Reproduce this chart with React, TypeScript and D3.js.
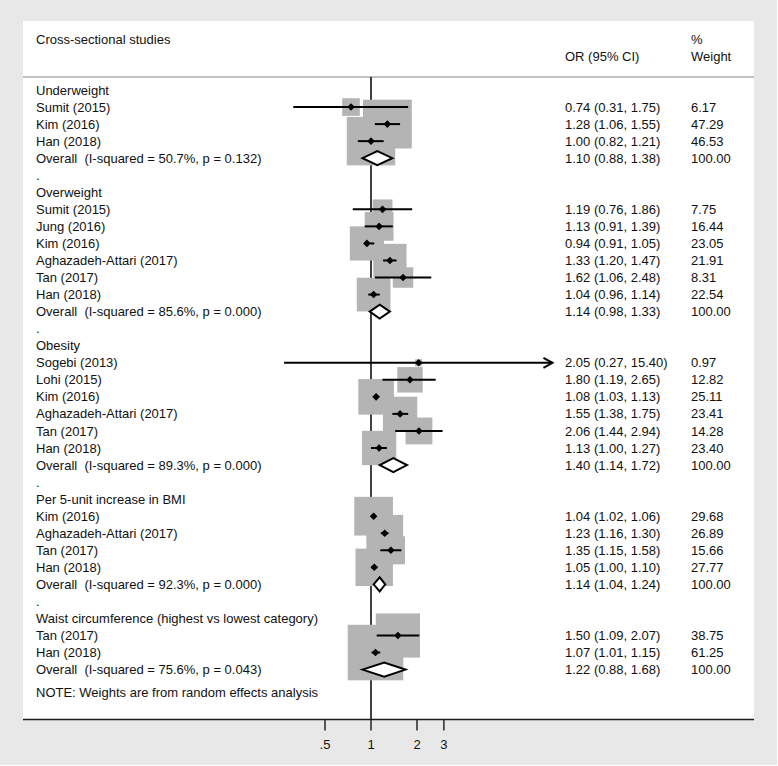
import React from "react";
import * as d3 from "d3";

// ---- data ----
const rowLabels: string[] = [
  "Underweight",
  "Sumit (2015)", "Kim (2016)", "Han (2018)",
  "Overall  (I-squared = 50.7%, p = 0.132)",
  ".",
  "Overweight",
  "Sumit (2015)", "Jung (2016)", "Kim (2016)", "Aghazadeh-Attari (2017)", "Tan (2017)", "Han (2018)",
  "Overall  (I-squared = 85.6%, p = 0.000)",
  ".",
  "Obesity",
  "Sogebi (2013)", "Lohi (2015)", "Kim (2016)", "Aghazadeh-Attari (2017)", "Tan (2017)", "Han (2018)",
  "Overall  (I-squared = 89.3%, p = 0.000)",
  ".",
  "Per 5-unit increase in BMI",
  "Kim (2016)", "Aghazadeh-Attari (2017)", "Tan (2017)", "Han (2018)",
  "Overall  (I-squared = 92.3%, p = 0.000)",
  ".",
  "Waist circumference (highest vs lowest category)",
  "Tan (2017)", "Han (2018)",
  "Overall  (I-squared = 75.6%, p = 0.043)",
];

// h = heading, s = study, o = overall, b = blank
const rowKinds: string[] = [
  "h", "s", "s", "s", "o", "b",
  "h", "s", "s", "s", "s", "s", "s", "o", "b",
  "h", "s", "s", "s", "s", "s", "s", "o", "b",
  "h", "s", "s", "s", "s", "o", "b",
  "h", "s", "s", "o",
];

const rowOR: (number | null)[] = [
  null, 0.74, 1.28, 1.00, 1.10, null,
  null, 1.19, 1.13, 0.94, 1.33, 1.62, 1.04, 1.14, null,
  null, 2.05, 1.80, 1.08, 1.55, 2.06, 1.13, 1.40, null,
  null, 1.04, 1.23, 1.35, 1.05, 1.14, null,
  null, 1.50, 1.07, 1.22,
];
const rowLow: (number | null)[] = [
  null, 0.31, 1.06, 0.82, 0.88, null,
  null, 0.76, 0.91, 0.91, 1.20, 1.06, 0.96, 0.98, null,
  null, 0.27, 1.19, 1.03, 1.38, 1.44, 1.00, 1.14, null,
  null, 1.02, 1.16, 1.15, 1.00, 1.04, null,
  null, 1.09, 1.01, 0.88,
];
const rowHigh: (number | null)[] = [
  null, 1.75, 1.55, 1.21, 1.38, null,
  null, 1.86, 1.39, 1.05, 1.47, 2.48, 1.14, 1.33, null,
  null, 15.40, 2.65, 1.13, 1.75, 2.94, 1.27, 1.72, null,
  null, 1.06, 1.30, 1.58, 1.10, 1.24, null,
  null, 2.07, 1.15, 1.68,
];
const rowWeight: (number | null)[] = [
  null, 6.17, 47.29, 46.53, 100.0, null,
  null, 7.75, 16.44, 23.05, 21.91, 8.31, 22.54, 100.0, null,
  null, 0.97, 12.82, 25.11, 23.41, 14.28, 23.40, 100.0, null,
  null, 29.68, 26.89, 15.66, 27.77, 100.0, null,
  null, 38.75, 61.25, 100.0,
];

const tickValues = [0.5, 1, 2, 3];
const tickLabels = [".5", "1", "2", "3"];
const clipMax = 14.8; // plot range upper limit (arrows beyond)

const titleText = "Cross-sectional studies";
const noteText = "NOTE: Weights are from random effects analysis";

// ---- layout ----
const W = 778;
const H = 766;
const FONT = "'Liberation Sans', Arial, Helvetica, sans-serif";

export default function App() {
  const x = d3.scaleLog().domain([0.5, 3]).range([325, 443.9]);
  const y = d3.scaleLinear().domain([0, rowLabels.length - 1]).range([90, 669.6]);
  const side = d3.scaleSqrt().domain([0, 100]).range([0, 71]);

  const panelL = 23, panelR = 754, panelT = 21, axisY = 719.5, headerY = 77;
  const colLabel = 36, colOR = 565, colW = 691;
  const fmt = d3.format(".2f");

  const textStyle: React.CSSProperties = { whiteSpace: "pre" };
  const idx = rowLabels.map((_, i) => i);
  const studies = idx.filter((i) => rowKinds[i] === "s");
  const overalls = idx.filter((i) => rowKinds[i] === "o");
  const xNull = x(1);

  return (
    <svg width={W} height={H} style={{ position: "absolute", left: 0, top: 0 }} fontFamily={FONT} fontSize={13}>
      <rect x={0} y={0} width={W - 1} height={H - 1} fill="#e8e8e8" />
      <rect x={panelL} y={panelT} width={panelR - panelL} height={axisY - panelT} fill="#ffffff" />
      {/* header */}
      <text x={colLabel} y={44} fill="#111">{titleText}</text>
      <text x={colOR} y={61} fill="#111">OR (95% CI)</text>
      <text x={colW} y={44} fill="#111">%</text>
      <text x={colW} y={61} fill="#111">Weight</text>
      <line x1={panelL} x2={panelR} y1={headerY} y2={headerY} stroke="#c2c2c2" strokeWidth={2} />

      {/* null line */}
      <line x1={xNull} x2={xNull} y1={headerY} y2={axisY} stroke="#111" strokeWidth={1.6} />

      {/* boxes */}
      {studies.map((i) => {
        const s = side(rowWeight[i] as number);
        const cx = x(rowOR[i] as number);
        return <rect key={"b" + i} x={cx - s / 2} y={y(i) - s / 2} width={s} height={s} fill="#b4b4b4" />;
      })}

      {/* CI lines and markers */}
      {studies.map((i) => {
        const lo = rowLow[i] as number;
        const hi = rowHigh[i] as number;
        const cx = x(rowOR[i] as number);
        const yy = y(i);
        const clipped = hi > clipMax;
        const x2 = x(Math.min(hi, 15.4));
        const m = 3.8;
        return (
          <g key={"c" + i}>
            <line x1={x(lo)} x2={x2} y1={yy} y2={yy} stroke="#000" strokeWidth={2} />
            {clipped && (
              <polyline points={`${x2 - 9},${yy - 5} ${x2},${yy} ${x2 - 9},${yy + 5}`} fill="none" stroke="#000" strokeWidth={2} />
            )}
            <path d={`M${cx - m},${yy} L${cx},${yy - m} L${cx + m},${yy} L${cx},${yy + m} Z`} fill="#000" />
          </g>
        );
      })}

      {/* overall diamonds */}
      {overalls.map((i) => {
        const yy = y(i);
        const l = x(rowLow[i] as number), r = x(rowHigh[i] as number), c = x(rowOR[i] as number);
        return (
          <path key={"d" + i} d={`M${l},${yy} L${c},${yy - 7} L${r},${yy} L${c},${yy + 7} Z`} fill="#fff" stroke="#000" strokeWidth={2} />
        );
      })}

      {/* row texts */}
      {idx.map((i) => (
        <g key={"t" + i}>
          <text x={colLabel} y={y(i) + 4.6} fill="#111" style={textStyle}>{rowLabels[i]}</text>
          {rowOR[i] != null && (
            <text x={colOR} y={y(i) + 4.6} fill="#111">
              {`${fmt(rowOR[i] as number)} (${fmt(rowLow[i] as number)}, ${fmt(rowHigh[i] as number)})`}
            </text>
          )}
          {rowWeight[i] != null && (
            <text x={colW} y={y(i) + 4.6} fill="#111">{fmt(rowWeight[i] as number)}</text>
          )}
        </g>
      ))}
      <text x={colLabel} y={697} fill="#111">{noteText}</text>

      {/* x axis */}
      <line x1={panelL} x2={panelR} y1={axisY} y2={axisY} stroke="#1a1a1a" strokeWidth={1.6} />
      {tickValues.map((v, k) => (
        <g key={"k" + k}>
          <line x1={x(v)} x2={x(v)} y1={axisY} y2={axisY + 11} stroke="#1a1a1a" strokeWidth={1.4} />
          <text x={x(v)} y={749} textAnchor="middle" fill="#111">{tickLabels[k]}</text>
        </g>
      ))}
    </svg>
  );
}
